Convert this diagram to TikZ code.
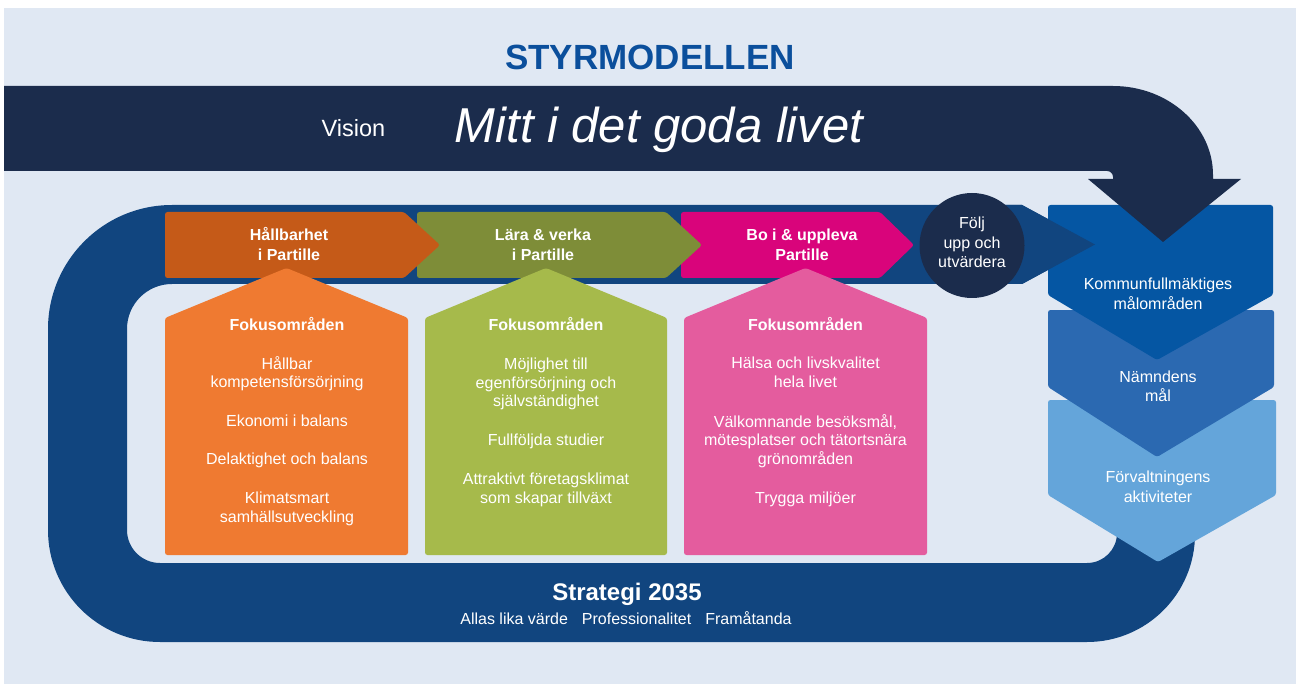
\documentclass[tikz,border=0pt]{standalone}
\usepackage{fontspec}
\setmainfont{Liberation Sans}
\definecolor{bgblue}{HTML}{E0E8F3}
\definecolor{navyc}{HTML}{1B2C4C}
\definecolor{loopblue}{HTML}{11457F}
\definecolor{titleblue}{HTML}{0B4F9C}
\definecolor{chevA}{HTML}{0556A3}
\definecolor{chevB}{HTML}{2B69B1}
\definecolor{chevC}{HTML}{64A5DA}
\definecolor{phaseA}{HTML}{C55A18}
\definecolor{phaseB}{HTML}{7E8D38}
\definecolor{phaseC}{HTML}{D9047B}
\definecolor{focA}{HTML}{EF7A31}
\definecolor{focB}{HTML}{A6BA4B}
\definecolor{focC}{HTML}{E45C9E}
\newcommand\tbx[1]{\rule{0pt}{16pt}#1\rule[-5pt]{0pt}{5pt}}
\begin{document}
\begin{tikzpicture}[x=1pt,y=-1pt,
  txt/.style={text=white, inner sep=0pt, align=center, font=\fontsize{16}{18.5}\selectfont},
  btxt/.style={text=white, inner sep=0pt, align=center, font=\bfseries\fontsize{16}{19.5}\selectfont},
  ctxt/.style={text=white, inner sep=0pt, align=center, font=\fontsize{16}{19.5}\selectfont},
  rc/.style={rounded corners=2.5pt}]
\useasboundingbox (0,0) rectangle (1297,684);
\fill[white] (0,0) rectangle (1297,684);
\fill[bgblue] (4,8) rectangle (1296,684);

% strategy loop
\fill[loopblue] (1117,450) -- (1117,533) .. controls (1117,549.6) and (1103.6,563) .. (1087,563)
  -- (160,563) .. controls (141.8,563) and (127,548.2) .. (127,530)
  -- (127,329) .. controls (127,304.1) and (147.1,284) .. (172,284)
  -- (1022,284) -- (1095,244.5) -- (1022,205)
  -- (172,205) .. controls (103.5,205) and (48,260.5) .. (48,329)
  -- (48,530) .. controls (48,591.9) and (98.1,642) .. (160,642)
  -- (1087,642) .. controls (1146.6,642) and (1195,593.6) .. (1195,534)
  -- (1195,450) -- cycle;

% right chevrons
\fill[chevC, rc] (1048,400) -- (1276,400) -- (1276,495) -- (1158,562) -- (1048,495) -- cycle;
\fill[chevB, rc] (1048,310) -- (1274,310) -- (1274,387) -- (1157,457) -- (1048,387) -- cycle;
\fill[chevA, rc] (1048,205) -- (1273,205) -- (1273,295) -- (1157,360) -- (1048,295) -- cycle;

% loop arrow tip over chevron
\fill[loopblue] (1000,205) -- (1022,205) -- (1095,244.5) -- (1022,284) -- (1000,284) -- cycle;

% vision band
\fill[navyc] (4,86) -- (1113,86) .. controls (1168,86) and (1213,125.8) .. (1213,175)
  -- (1213,179) -- (1241,179) -- (1163,242) -- (1088,179) -- (1113,179) -- (1113,177)
  .. controls (1113,173.7) and (1110.3,171) .. (1107,171) -- (4,171) -- cycle;

% follow-up circle
\node[circle, fill=navyc, minimum size=105pt, inner sep=0pt] (circ) at (972,245.5) {};
\node[ctxt] (circtxt) at (972,243) {\tbx{Följ\\upp och\\utvärdera}};

% phase chevrons
\fill[phaseC, rc] (681,212) -- (880,212) -- (914,245) -- (880,278) -- (681,278) -- cycle;
\fill[phaseB, rc] (417,212) -- (666,212) -- (702,245) -- (666,278) -- (417,278) -- cycle;
\fill[phaseA, rc] (165,212) -- (404,212) -- (440,245) -- (404,278) -- (165,278) -- cycle;
\node[btxt] (phA) at (289,245) {\tbx{Hållbarhet\\i Partille}};
\node[btxt] (phB) at (543,245) {\tbx{Lära \& verka\\i Partille}};
\node[btxt] (phC) at (802,245) {\tbx{Bo i \& uppleva\\Partille}};

% focus boxes
\fill[focA, rc] (165,555) -- (165,318) -- (286.5,268) -- (408,318) -- (408,555) -- cycle;
\fill[focB, rc] (425,555) -- (425,318) -- (546,268) -- (667,318) -- (667,555) -- cycle;
\fill[focC, rc] (684,555) -- (684,318) -- (805.5,268) -- (927,318) -- (927,555) -- cycle;

\node[btxt] (fA0) at (287,325) {\tbx{Fokusområden}};
\node[txt] (fA1) at (287,373) {\tbx{Hållbar\\kompetensförsörjning}};
\node[txt] (fA2) at (287,421) {\tbx{Ekonomi i balans}};
\node[txt] (fA3) at (287,459) {\tbx{Delaktighet och balans}};
\node[txt] (fA4) at (287,507.5) {\tbx{Klimatsmart\\samhällsutveckling}};

\node[btxt] (fB0) at (546,325) {\tbx{Fokusområden}};
\node[txt] (fB1) at (546,382.5) {\tbx{Möjlighet till\\egenförsörjning och\\självständighet}};
\node[txt] (fB2) at (546,440) {\tbx{Fullföljda studier}};
\node[txt] (fB3) at (546,488.5) {\tbx{Attraktivt företagsklimat\\som skapar tillväxt}};

\node[btxt] (fC0) at (805.5,325) {\tbx{Fokusområden}};
\node[txt] (fC1) at (805.5,372.5) {\tbx{Hälsa och livskvalitet\\hela livet}};
\node[txt] (fC2) at (805.5,440) {\tbx{Välkomnande besöksmål,\\mötesplatser och tätortsnära\\grönområden}};
\node[txt] (fC3) at (805.5,498) {\tbx{Trygga miljöer}};

% right chevron texts
\node[ctxt] (cA) at (1158,294) {\tbx{Kommunfullmäktiges\\målområden}};
\node[ctxt] (cB) at (1158,386.5) {\tbx{Nämndens\\mål}};
\node[ctxt] (cC) at (1158,487) {\tbx{Förvaltningens\\aktiviteter}};

% titles
\node[anchor=base, inner sep=0pt, text=titleblue, font=\bfseries\fontsize{35}{40}\selectfont] (title) at (650,70) {STYRMODELLEN};
\node[anchor=base, inner sep=0pt, text=white, font=\fontsize{23.5}{27}\selectfont] (vis) at (353.5,136.5) {Vision};
\node[anchor=base, inner sep=0pt, text=white, font=\itshape\fontsize{49}{55}\selectfont] (motto) at (659,143) {Mitt i det goda livet};
\node[anchor=base, inner sep=0pt, text=white, font=\bfseries\fontsize{24}{28}\selectfont] (strat) at (627,600) {Strategi 2035};
\node[anchor=base, inner sep=0pt, text=white, font=\fontsize{16}{19}\selectfont] (vals) at (626,624) {Allas lika värde\hspace{14pt}Professionalitet\hspace{14pt}Framåtanda};
\end{tikzpicture}
\end{document}
